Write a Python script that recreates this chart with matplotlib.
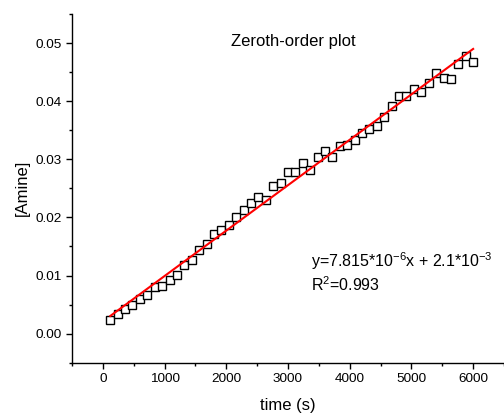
import numpy as np
import matplotlib
matplotlib.use('Agg')
import matplotlib.pyplot as plt
from matplotlib.ticker import MultipleLocator

plt.rcParams['font.family'] = ['Liberation Sans', 'DejaVu Sans']

# datos
time_s = np.arange(1, 51) * 120
amine = [0.00229, 0.00344, 0.00430, 0.00486, 0.00596, 0.00658, 0.00802, 0.00813,
         0.00928, 0.01014, 0.01186, 0.01259, 0.01431, 0.01546, 0.01718, 0.01787,
         0.01868, 0.02015, 0.02131, 0.02246, 0.02359, 0.02302, 0.02543, 0.02589,
         0.02778, 0.02778, 0.02938, 0.02818, 0.03046, 0.03150, 0.03046, 0.03235,
         0.03253, 0.03333, 0.03448, 0.03522, 0.03579, 0.03734, 0.03918, 0.04092,
         0.04095, 0.04210, 0.04163, 0.04318, 0.04479, 0.04404, 0.04376, 0.04639,
         0.04777, 0.04668]
slope = 7.815e-6
intercept = 2.1e-3

fit_x = np.array([time_s[0], time_s[-1]])
fit_y = slope * fit_x + intercept

fig = plt.figure(figsize=(5.04, 4.16), dpi=100)
ax = fig.add_axes([72 / 504, 1 - 362.7 / 416, 1 - 72 / 504, (362.7 - 14) / 416])

ax.plot(time_s, amine, 's', mfc='white', mec='black', ms=6, mew=1, zorder=2)
ax.plot(fit_x, fit_y, color='red', lw=1.5, zorder=3)

ax.set_xlim(-500, 6500)
ax.set_ylim(-0.005, 0.055)
ax.xaxis.set_major_locator(MultipleLocator(1000))
ax.xaxis.set_minor_locator(MultipleLocator(500))
ax.yaxis.set_major_locator(MultipleLocator(0.01))
ax.yaxis.set_minor_locator(MultipleLocator(0.005))
ax.yaxis.set_major_formatter(plt.FormatStrFormatter('%.2f'))
ax.tick_params(which='major', direction='out', length=4.5, width=1, labelsize=9.7, pad=3)
ax.tick_params(which='minor', direction='out', length=2.5, width=1)

for s in ['top', 'right']:
    ax.spines[s].set_visible(False)
for s in ['left', 'bottom']:
    ax.spines[s].set_linewidth(1)

ax.set_xlabel('time (s)', fontsize=12, labelpad=9)
ax.set_ylabel('[Amine]', fontsize=12, labelpad=4)

ax.text(3083, 0.0502, 'Zeroth-order plot', fontsize=12, ha='center', va='center')
ax.text(3375, 0.0124, r'y=7.815*10$^{\mathregular{-6}}$x + 2.1*10$^{\mathregular{-3}}$',
        fontsize=11.5, ha='left', va='center')
ax.text(3375, 0.0084, r'R$^{\mathregular{2}}$=0.993', fontsize=11.5, ha='left', va='center')

fig.savefig('out.png', dpi=100)
